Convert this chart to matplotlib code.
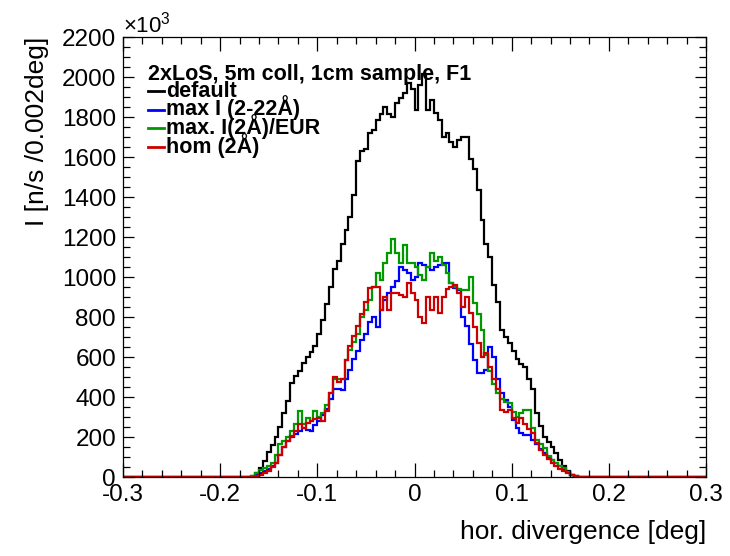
import numpy as np
import matplotlib.pyplot as plt
from matplotlib.lines import Line2D
from matplotlib.ticker import MultipleLocator

plt.rcParams['font.family'] = ['Liberation Sans', 'DejaVu Sans']
plt.rcParams['mathtext.fontset'] = 'custom'
plt.rcParams['mathtext.rm'] = 'Liberation Sans'

# histogram range of the non-empty part (deg), 0.004 deg steps
x_lo, x_hi = -0.176, 0.176

# intensities in units of 10^3 n/s
default = [0, 0, 5, 20, 45, 80, 125, 160, 198, 250, 320, 380, 469, 505, 530, 571,
           602, 627, 653, 714, 785, 867, 949, 1040, 1081, 1163, 1234, 1300, 1408, 1581,
           1632, 1642, 1720, 1734, 1785, 1816, 1850, 1816, 1800, 1869, 1897, 1918, 1969,
           1938, 1836, 1958, 2015, 1836, 1887, 1819, 1785, 1700, 1720, 1673, 1650, 1684,
           1700, 1698, 1591, 1540, 1434, 1284, 1163, 1101, 959, 877, 734, 701, 670, 632,
           592, 566, 551, 490, 439, 319, 255, 199, 173, 151, 119, 85, 56, 31, 12, 5, 0, 0]
max_i = [0, 0, 0, 8, 18, 28, 38, 55, 72, 110, 150, 181, 200, 215, 230, 246,
         235, 230, 260, 280, 310, 340, 390, 442, 440, 436, 490, 534, 592, 632,
         684, 714, 775, 801, 751, 834, 884, 918, 949, 979, 1051, 1034, 1019,
         984, 1001, 1070, 1061, 1051, 1034, 1051, 1061, 1070, 1070, 969, 944, 934,
         801, 755, 663, 584, 520, 520, 534, 651, 601, 490, 418, 385, 351, 286,
         245, 219, 210, 210, 184, 163, 138, 122, 102, 87, 69, 53, 41, 25, 10, 0, 0, 0]
max_eur = [0, 0, 5, 20, 35, 44, 55, 68, 110, 165, 180, 198, 230, 265, 328, 265,
           295, 280, 328, 300, 320, 362, 420, 491, 491, 491, 584, 634, 673, 714,
           801, 834, 887, 949, 1019, 984, 1070, 1122, 1188, 1120, 1070, 1160, 1070,
           1070, 1051, 1010, 984, 1051, 1120, 1081, 1101, 1061, 1019, 969, 952, 938,
           934, 934, 1001, 869, 816, 734, 612, 530, 464, 419, 388, 377, 369, 326,
           301, 321, 335, 335, 245, 185, 163, 143, 107, 87, 69, 56, 43, 25, 12, 3, 0, 0]
hom = [0, 0, 0, 5, 12, 20, 30, 48, 68, 110, 150, 181, 205, 230, 265, 246,
       270, 280, 290, 295, 280, 330, 420, 500, 475, 491, 584, 653, 704, 755,
       816, 877, 945, 952, 952, 834, 902, 834, 918, 918, 908, 902, 969,
       918, 884, 801, 769, 902, 834, 902, 818, 902, 938, 952, 960, 918,
       851, 902, 818, 751, 670, 601, 619, 551, 490, 439, 337, 326, 335, 296,
       270, 296, 265, 240, 219, 168, 133, 112, 90, 71, 56, 41, 29, 18, 10, 3, 0, 0]

legend_title = '2xLoS, 5m coll, 1cm sample, F1'
labels = ['default', 'max I (2-22Å)', 'max. I(2Å)/EUR', 'hom (2Å)']
colors = ['black', '#0000ff', '#009900', '#cc0000']
xticklabels = ['-0.3', '-0.2', '-0.1', '0', '0.1', '0.2', '0.3']

inner = np.linspace(x_lo, x_hi, len(default) + 1)
edges = np.concatenate([[-0.3], inner, [0.3]])

W, H = 730, 556
fig = plt.figure(figsize=(W / 100, H / 100), dpi=100)
ax = fig.add_axes([123 / W, 1 - 477 / H, 583 / W, 440 / H])

for vals, c, lab in zip([default, max_i, max_eur, hom], colors, labels):
    ax.stairs(np.concatenate([[0], vals, [0]]), edges, color=c, lw=1.6, label=lab)

ax.set_xlim(-0.3, 0.3)
ax.set_ylim(0, 2200)
ax.set_xticks(np.linspace(-0.3, 0.3, len(xticklabels)))
ax.set_xticklabels(xticklabels)
ax.xaxis.set_minor_locator(MultipleLocator(0.02))
ax.yaxis.set_major_locator(MultipleLocator(200))
ax.yaxis.set_minor_locator(MultipleLocator(50))
ax.tick_params(which='both', direction='in', top=True, right=True, labelsize=17.5, width=0.9)
ax.tick_params(axis='x', which='major', length=10, pad=5)
ax.tick_params(axis='x', which='minor', length=5)
ax.tick_params(axis='y', which='major', length=8, pad=5)
ax.tick_params(axis='y', which='minor', length=5)
for s in ax.spines.values():
    s.set_linewidth(0.9)

ax.set_xlabel('hor. divergence [deg]', fontsize=19, loc='right', labelpad=10)
ax.set_ylabel('I [n/s /0.002deg]', fontsize=19, loc='top', labelpad=9)
fig.text(123 / W, 1 - 33 / H, r'$\times$10$^{3}$', fontsize=16,
         ha='left', va='baseline')

# ROOT-style legend block (pixel positions of the baselines)
fs = 15.5
fig.text(148 / W, 1 - 80 / H, legend_title, fontsize=fs, fontweight='bold',
         va='baseline', ha='left')
for i, (lab, c) in enumerate(zip(labels, colors)):
    yb = 97 + 18.5 * i
    fig.add_artist(Line2D([148 / W, 164 / W], [1 - (yb - 6) / H] * 2, color=c, lw=2))
    fig.text(166 / W, 1 - yb / H, lab, fontsize=fs, fontweight='bold',
             va='baseline', ha='left')

fig.savefig('out.png', dpi=100)
